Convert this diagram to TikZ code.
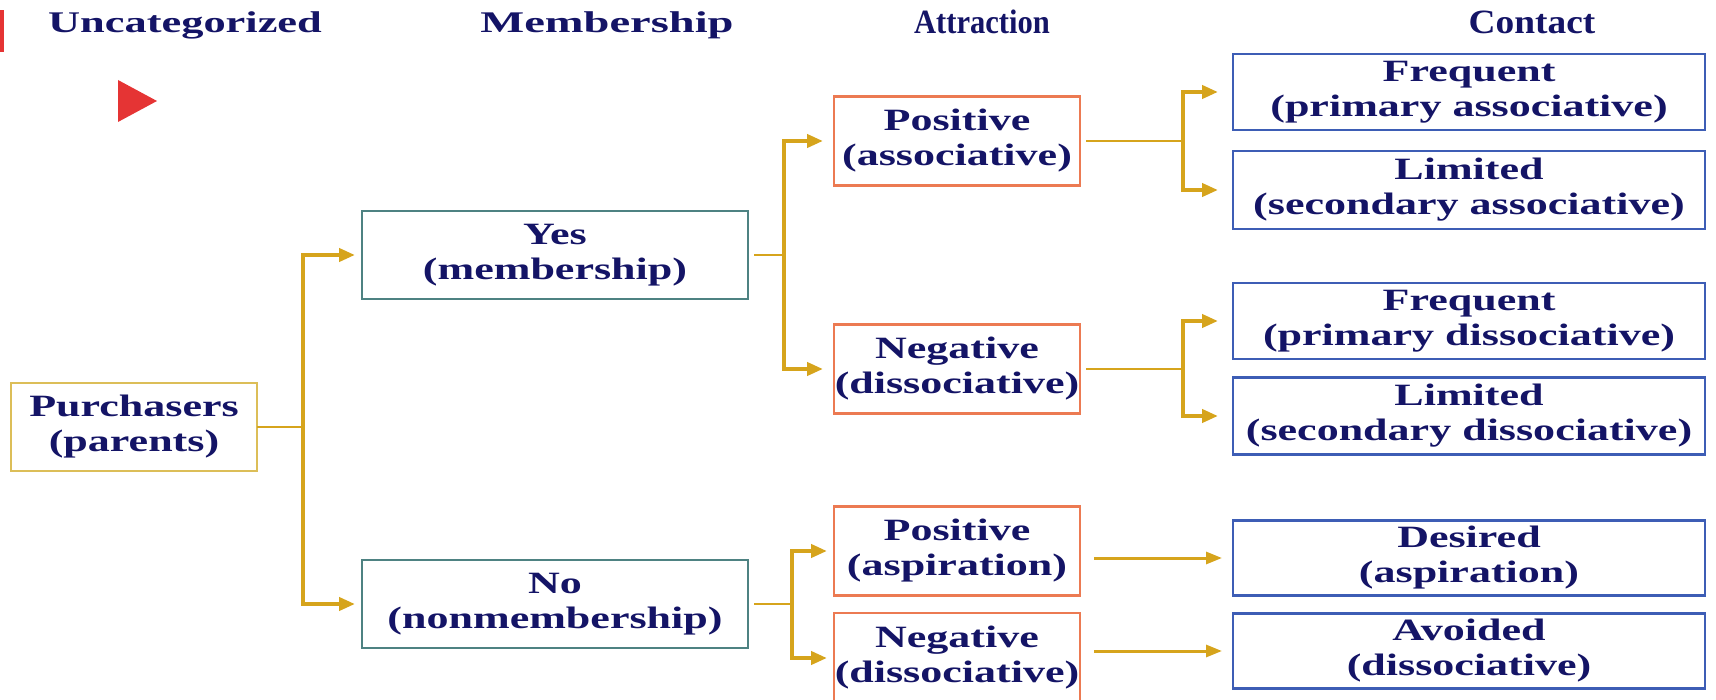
\documentclass[tikz,border=0pt]{standalone}
\usepackage{fontspec}
\usepackage{graphicx}
\setmainfont{Liberation Serif}
\newfontfamily\widefont[FakeStretch=1.42]{Liberation Serif}
\usetikzlibrary{arrows.meta}

\definecolor{ink}{HTML}{141466}
\definecolor{linegold}{HTML}{D6A41C}
\definecolor{rootedge}{HTML}{DCBE58}
\definecolor{memberedge}{HTML}{4E8282}
\definecolor{attredge}{HTML}{EC7A52}
\definecolor{contactedge}{HTML}{3D5DB5}
\definecolor{marker}{HTML}{E53434}

\newcommand\boxtext{\widefont\bfseries\fontsize{31pt}{35pt}\selectfont}
\newcommand\headtext{\bfseries\fontsize{30pt}{33pt}\selectfont}
\newcommand\tallhead{\bfseries\fontsize{34pt}{36pt}\selectfont}

\begin{document}
\begin{tikzpicture}[x=1pt,y=-1pt,
  every node/.style={inner sep=0pt,outer sep=0pt},
  box/.style={draw=#1,line width=2.4pt,fill=white,align=center,text=ink,font=\boxtext},
  rootbox/.style={box=rootedge,minimum width=246pt,minimum height=88pt},
  memberbox/.style={box=memberedge,minimum width=386pt,minimum height=88pt},
  attrbox/.style={box=attredge,minimum width=246pt,minimum height=89pt},
  contactbox/.style={box=contactedge,minimum width=472pt,minimum height=76pt},
  header/.style={anchor=base,text=ink,font=\headtext},
  stub/.style={draw=linegold,line width=2pt,shorten <=6pt},
  feed/.style={draw=linegold,line width=4.5pt,line join=miter,
    -{Triangle[length=16pt,width=13pt]}},
  straight/.style={draw=linegold,line width=3pt,
    -{Triangle[length=16pt,width=12pt]},shorten <=14pt,shorten >=11pt}
]
\useasboundingbox (0,0) rectangle (1716,700);

% column headings
\node[header] (hU) at (185,33) {\scalebox{1.48}[1]{Uncategorized}};
\node[header] (hM) at (607,33) {\scalebox{1.55}[1]{Membership}};
\node[header,font=\tallhead] (hA) at (982,34) {\scalebox{0.9}[1]{Attraction}};
\node[header,font=\tallhead] (hC) at (1532,34) {\scalebox{1.1}[1]{Contact}};

% red markers
\fill[marker] (0,10) rectangle (4,52);
\fill[marker] (118,80) -- (118,122) -- (157,101) -- cycle;

% boxes
\node[rootbox] (P) at (134,427) {Purchasers\\(parents)};

\node[memberbox] (Yes) at (555,255) {Yes\\(membership)};
\node[memberbox] (No) at (555,604) {No\\(nonmembership)};

\node[attrbox] (PosA) at (957,141) {Positive\\(associative)};
\node[attrbox] (NegA) at (957,369) {Negative\\(dissociative)};
\node[attrbox] (PosAsp) at (957,551) {Positive\\(aspiration)};
\node[attrbox,minimum height=90pt] (NegD) at (957,658) {Negative\\(dissociative)};

\node[contactbox] (FPA) at (1469,92) {Frequent\\(primary associative)};
\node[contactbox,minimum height=78pt] (LSA) at (1469,190) {Limited\\(secondary associative)};
\node[contactbox] (FPD) at (1469,321) {Frequent\\(primary dissociative)};
\node[contactbox,minimum height=77pt] (LSD) at (1469,416) {Limited\\(secondary dissociative)};
\node[contactbox,minimum height=75pt] (Des) at (1469,558) {Desired\\(aspiration)};
\node[contactbox,minimum height=75pt] (Av) at (1469,651) {Avoided\\(dissociative)};

% branch points
\coordinate (j1) at (303,427);
\coordinate (j2) at (784,255);
\coordinate (j3) at (792,604);
\coordinate (j4) at (1183,141);
\coordinate (j5) at (1183,369);

% purchasers -> membership
\draw[stub,shorten <=0pt] (P.east) -- (j1);
\draw[feed,shorten >=7pt] (j1) |- (Yes.west);
\draw[feed,shorten >=7pt] (j1) |- (No.west);

% membership -> attraction
\draw[stub] (Yes.east) -- (j2);
\draw[feed,shorten >=11pt] (j2) |- (PosA.west);
\draw[feed,shorten >=11pt] (j2) |- (NegA.west);
\draw[stub] (No.east) -- (j3);
\draw[feed,shorten >=7pt] (j3) |- (PosAsp.west);
\draw[feed,shorten >=7pt] (j3) |- (NegD.west);

% attraction -> contact
\draw[stub] (PosA.east) -- (j4);
\draw[feed,shorten >=15pt] (j4) |- (FPA.west);
\draw[feed,shorten >=15pt] (j4) |- (LSA.west);
\draw[stub] (NegA.east) -- (j5);
\draw[feed,shorten >=15pt] (j5) |- (FPD.west);
\draw[feed,shorten >=15pt] (j5) |- (LSD.west);
\draw[straight] (PosAsp.east |- Des.west) -- (Des.west);
\draw[straight] (NegD.east |- Av.west) -- (Av.west);
\end{tikzpicture}
\end{document}
